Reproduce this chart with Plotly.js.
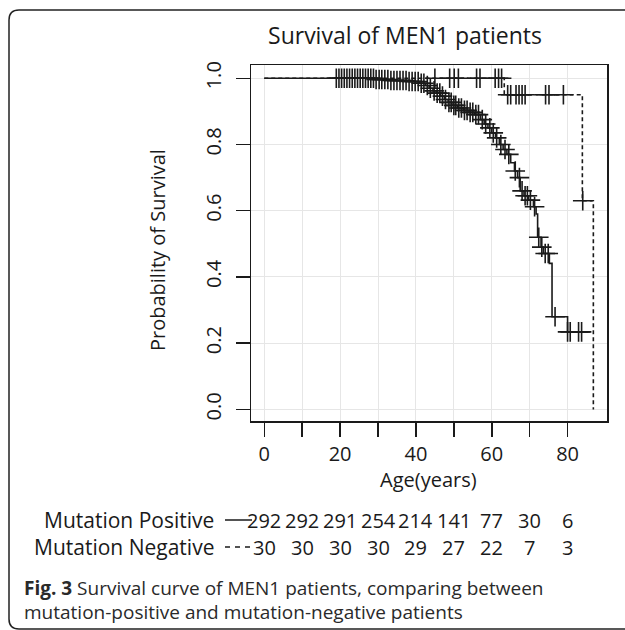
<!DOCTYPE html>
<html>
<head>
<meta charset="utf-8">
<script src="https://cdn.plot.ly/plotly-3.0.1.min.js"></script>
<style>html,body{margin:0;padding:0;background:#fff;}#chart{width:625px;height:630px;}</style>
</head>
<body>
<div id="chart"></div>
<script>
// ---- Data ----
const posTimes = [0, 29, 33, 38, 41, 42.5, 43.5, 44.5, 45.5, 46.5, 47.5, 48.5, 49.5, 51, 52.5, 54, 55.5, 57, 58, 59, 60, 61, 62, 63, 64, 65, 66, 66.8, 67.5, 68.5, 69.7, 71, 71.7, 72.1, 73, 73.6, 75.2, 75.9, 80];
const posSurv  = [1, 0.996, 0.993, 0.99, 0.985, 0.978, 0.97, 0.962, 0.955, 0.946, 0.936, 0.927, 0.918, 0.91, 0.903, 0.897, 0.89, 0.875, 0.862, 0.85, 0.835, 0.82, 0.80, 0.785, 0.77, 0.745, 0.72, 0.70, 0.66, 0.645, 0.632, 0.612, 0.59, 0.52, 0.49, 0.471, 0.441, 0.28, 0.234];
const posEnd = 86;
const posCensor = [19.0, 19.7, 20.4, 21.1, 21.8, 22.5, 23.2, 23.9, 24.6, 25.3, 26.0, 26.7, 27.4, 28.1, 28.8,
  29.5, 30.3, 31.0, 31.8, 32.6, 33.4, 34.2, 35.0, 35.8, 36.6, 37.4, 38.2, 39.0, 39.8, 40.6, 41.4, 42.1,
  43.0, 43.8, 44.8, 45.6, 46.3, 47.0, 47.8, 48.7, 49.3, 50.0, 50.5, 51.3, 52.0, 52.8, 53.5, 54.3, 55.0, 55.8,
  56.5, 57.5, 58.4, 59.5, 60.4, 61.3, 62.4, 63.5, 64.5, 66.2, 67.3, 68.0, 68.8, 69.4, 70.2, 71.3, 72.4, 73.2,
  74.1, 74.9, 76.7, 80.0, 80.7, 82.9, 83.7];

const negTimes = [0, 63.3, 83.9, 86.8];
const negSurv  = [1, 0.95, 0.63, 0];
const negCensor = [45.0, 48.9, 50.1, 51.2, 56.0, 56.9, 60.9, 61.8, 62.6,
  64.2, 65.0, 66.4, 67.2, 68.0, 68.8, 74.2, 75.1, 78.9, 84.0];

const xTickVals = [0, 10, 20, 30, 40, 50, 60, 70, 80];
const xTickText = ['0', '', '20', '', '40', '', '60', '', '80'];
const yTickVals = [0, 0.2, 0.4, 0.6, 0.8, 1.0];
const yTickText = ['0.0', '0.2', '0.4', '0.6', '0.8', '1.0'];

const riskTimes = [0, 10, 20, 30, 40, 50, 60, 70, 80];
const riskPos = [292, 292, 291, 254, 214, 141, 77, 30, 6];
const riskNeg = [30, 30, 30, 30, 29, 27, 22, 7, 3];
const groupLabels = ['Mutation Positive', 'Mutation Negative'];

const titleText = 'Survival of MEN1 patients';
const xTitle = 'Age(years)';
const yTitle = 'Probability of Survival';
const captionLine1 = '<b>Fig. 3</b> Survival curve of MEN1 patients, comparing between';
const captionLine2 = 'mutation-positive and mutation-negative patients';

// ---- Helpers ----
function survAt(times, surv, t) {
  let s = surv[0];
  for (let i = 0; i < times.length; i++) { if (times[i] <= t) s = surv[i]; }
  return s;
}
const W = 625, H = 630, L = 251, R = 607, T = 65, B = 421;
const xp = px => (px - L) / (R - L);
const yp = py => (B - py) / (B - T);
const FONT = '"Open Sans", "Noto Sans", sans-serif';
const INK = '#1a1a1a';

const censorMarker = { symbol: 'cross-thin-open', size: 14, color: INK, line: { color: INK, width: 1.6 } };
const traces = [
  { x: posTimes.concat([posEnd]), y: posSurv.concat([posSurv[posSurv.length - 1]]),
    type: 'scatter', mode: 'lines', line: { shape: 'hv', color: INK, width: 1.6 }, hoverinfo: 'skip' },
  { x: negTimes, y: negSurv,
    type: 'scatter', mode: 'lines', line: { shape: 'hv', color: INK, width: 1.6, dash: '4px,3px' }, hoverinfo: 'skip' },
  { x: posCensor, y: posCensor.map(t => survAt(posTimes, posSurv, t)),
    type: 'scatter', mode: 'markers', marker: censorMarker },
  { x: negCensor, y: negCensor.map(t => survAt(negTimes, negSurv, t)),
    type: 'scatter', mode: 'markers', marker: censorMarker }
];

const annotations = [
  { text: xTitle, xref: 'paper', yref: 'paper', x: xp(428), y: yp(479), xanchor: 'center', yanchor: 'middle', showarrow: false, font: { size: 20, color: INK, family: FONT } },
  { text: yTitle, xref: 'paper', yref: 'paper', x: xp(157), y: yp(250), xanchor: 'center', yanchor: 'middle', textangle: -90, showarrow: false, font: { size: 20, color: INK, family: FONT } },
  { text: groupLabels[0], xref: 'paper', yref: 'paper', x: xp(216), y: yp(520), xanchor: 'right', yanchor: 'middle', showarrow: false, font: { size: 21, color: INK, family: FONT } },
  { text: groupLabels[1], xref: 'paper', yref: 'paper', x: xp(216), y: yp(547), xanchor: 'right', yanchor: 'middle', showarrow: false, font: { size: 21, color: INK, family: FONT } },
  { text: captionLine1, xref: 'paper', yref: 'paper', x: xp(22), y: yp(588), xanchor: 'left', yanchor: 'middle', showarrow: false, font: { size: 19, color: '#2a2a2a', family: FONT } },
  { text: captionLine2, xref: 'paper', yref: 'paper', x: xp(22), y: yp(612), xanchor: 'left', yanchor: 'middle', showarrow: false, font: { size: 19, color: '#2a2a2a', family: FONT } }
];
riskTimes.forEach((t, i) => {
  annotations.push({ text: String(riskPos[i]), xref: 'x', yref: 'paper', x: t, y: yp(520), xanchor: 'center', yanchor: 'middle', showarrow: false, font: { size: 20, color: INK, family: FONT } });
  annotations.push({ text: String(riskNeg[i]), xref: 'x', yref: 'paper', x: t, y: yp(547), xanchor: 'center', yanchor: 'middle', showarrow: false, font: { size: 20, color: INK, family: FONT } });
});

const r = 10 / (R - L);
const bx0 = xp(9), by0 = yp(10), by1 = yp(629), bx1 = xp(660);
const shapes = [
  { type: 'line', xref: 'paper', yref: 'paper', x0: xp(225), x1: xp(252), y0: yp(520), y1: yp(520), line: { color: INK, width: 1.5 } },
  { type: 'line', xref: 'paper', yref: 'paper', x0: xp(225), x1: xp(252), y0: yp(547), y1: yp(547), line: { color: INK, width: 1.5, dash: '5px,5px' } },
  { type: 'path', xref: 'paper', yref: 'paper',
    path: `M ${bx1} ${by0} L ${bx0 + r} ${by0} Q ${bx0} ${by0} ${bx0} ${by0 - r} L ${bx0} ${by1 + r} Q ${bx0} ${by1} ${bx0 + r} ${by1} L ${bx1} ${by1}`,
    line: { color: '#222', width: 1.5 } }
];

const axisCommon = {
  showline: true, mirror: true, linecolor: INK, linewidth: 1.5,
  ticks: 'outside', ticklen: 14, tickwidth: 1.5, tickcolor: INK,
  showgrid: true, gridcolor: '#e6e6e6', gridwidth: 1, zeroline: false,
  tickfont: { size: 20, color: INK, family: FONT }, fixedrange: true
};

const layout = {
  width: W, height: H,
  margin: { l: L, r: W - R, t: T, b: H - B, pad: 0 },
  paper_bgcolor: '#fff', plot_bgcolor: '#fff',
  showlegend: false,
  title: { text: titleText, xref: 'container', yref: 'container', x: 405 / W, y: 1 - 36 / H, xanchor: 'center', yanchor: 'middle', font: { size: 23, color: INK, family: FONT } },
  xaxis: Object.assign({}, axisCommon, { range: [-3.5, 90.4], tickmode: 'array', tickvals: xTickVals, ticktext: xTickText, ticklabelstandoff: 0 }),
  yaxis: Object.assign({}, axisCommon, { range: [-0.035, 1.04], tickmode: 'array', tickvals: yTickVals, ticktext: yTickText, tickangle: -90, ticklabelstandoff: 7 }),
  annotations: annotations,
  shapes: shapes
};

Plotly.newPlot('chart', traces, layout, { staticPlot: true, displayModeBar: false });
</script>
</body>
</html>
